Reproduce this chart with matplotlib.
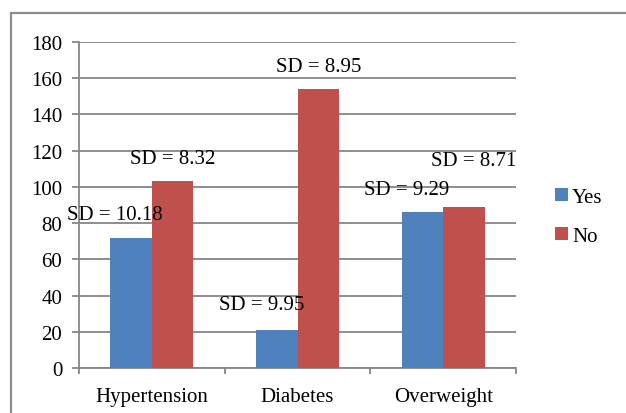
import matplotlib.pyplot as plt
import numpy as np
from matplotlib.patches import Rectangle

# data
categories = ["Hypertension", "Diabetes", "Overweight"]
yes_values = [72, 21, 86]
no_values = [103, 154, 89]
yes_sd = [10.18, 9.95, 9.29]
no_sd = [8.32, 8.95, 8.71]

# label offsets (x in category units, y in data units) from bar top-centre
yes_lab_off = [(-0.11, 12.5), (-0.10, 13.8), (-0.11, 12.3)]
no_lab_off = [(0.0, 12.4), (0.0, 12.7), (0.065, 25.8)]

plt.rcParams["font.family"] = "serif"
plt.rcParams["font.serif"] = ["Liberation Serif", "DejaVu Serif"]
FS = 15

fig = plt.figure(figsize=(6.26, 4.14), dpi=100)
ax = fig.add_axes([79 / 626, 1 - 369 / 414, 437 / 626, 326 / 414])

# outer chart border (cut off by figure edges like the source)
fig.patches.append(Rectangle((11 / 626, -0.1), 1.1, 1 - 14 / 414 + 0.1,
                             transform=fig.transFigure, fill=False,
                             edgecolor="#8c8c8c", linewidth=1.6))

x = np.arange(len(categories))
w = 0.285
ax.bar(x - w / 2, yes_values, w, color="#4F81BD", label="Yes", zorder=3)
ax.bar(x + w / 2, no_values, w, color="#C0504D", label="No", zorder=3)

for i in range(len(categories)):
    dx, dy = yes_lab_off[i]
    ax.text(x[i] - w / 2 + dx, yes_values[i] + dy, f"SD = {yes_sd[i]:.2f}",
            ha="center", va="center", fontsize=FS, zorder=4)
    dx, dy = no_lab_off[i]
    ax.text(x[i] + w / 2 + dx, no_values[i] + dy, f"SD = {no_sd[i]:.2f}",
            ha="center", va="center", fontsize=FS, zorder=4)

ax.set_xlim(-0.5, 2.5)
ax.set_ylim(0, 180)
ax.set_yticks(np.arange(0, 181, 20))
ax.yaxis.grid(True, color="#868686", linewidth=1.3, zorder=0)
ax.set_axisbelow(True)

ax.set_xticks(x)
ax.set_xticklabels(categories, fontsize=FS)
ax.set_xticks([-0.5, 0.5, 1.5, 2.5], minor=True)
ax.tick_params(axis="x", which="major", length=0, pad=14)
ax.tick_params(axis="x", which="minor", length=4, width=1.3, color="#868686")
ax.tick_params(axis="y", length=5, width=1.3, color="#868686", pad=7,
               labelsize=FS)

for s in ["top", "right"]:
    ax.spines[s].set_visible(False)
for s in ["left", "bottom"]:
    ax.spines[s].set_color("#868686")
    ax.spines[s].set_linewidth(1.3)

fig.legend(loc="center left", bbox_to_anchor=(545 / 626, 1 - 218 / 414),
           frameon=False, fontsize=FS, handlelength=0.6, handleheight=0.6,
           handletextpad=0.2, labelspacing=0.95, borderpad=0)

fig.savefig("out.png", dpi=100)
